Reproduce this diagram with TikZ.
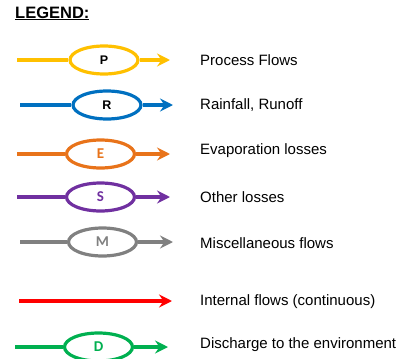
\documentclass[tikz,border=0pt]{standalone}
\usepackage{fontspec}
\setmainfont{Liberation Sans}
\newfontfamily\letterfont{Carlito}
\usepackage{xcolor}
\usepackage{tikz}
\usetikzlibrary{arrows.meta,shapes.geometric}
\definecolor{flowyellow}{HTML}{FFC000}
\definecolor{flowblue}{HTML}{0070C0}
\definecolor{floworange}{HTML}{E8731A}
\definecolor{flowpurple}{HTML}{7030A0}
\definecolor{flowgray}{HTML}{808080}
\definecolor{flowred}{HTML}{FF0000}
\definecolor{flowgreen}{HTML}{00B050}

\tikzset{
  flowline/.style={line width=3.2pt, -{Stealth[length=13pt,width=13pt,inset=4.5pt]}},
  plainline/.style={line width=3.2pt},
  flowbox/.style={ellipse, line width=3.2pt, minimum width=68pt, minimum height=28pt, inner sep=0pt, fill=white},
  legtext/.style={anchor=west, inner sep=0pt, font=\fontsize{15}{18}\selectfont}
}

\begin{document}
\begin{tikzpicture}[x=1pt, y=-1pt]
\useasboundingbox (0,0) rectangle (402,359);

\node[anchor=base west, inner sep=0pt, font=\fontsize{16.5}{19}\selectfont\bfseries] (title) at (15,18) {\underline{LEGEND:}};

% process flows
\coordinate (p-in) at (17,60);
\coordinate (p-out) at (170,60);
\node[flowbox, draw=flowyellow, font=\fontsize{12.5}{14}\selectfont\bfseries] (p) at (104,60) {P};
\draw[plainline, flowyellow] (p-in) -- (p);
\draw[flowline, flowyellow] (p) -- (p-out);
\node[legtext] (p-text) at (200,60) {Process Flows};

% rainfall, runoff
\coordinate (r-in) at (20,105);
\coordinate (r-out) at (173,105);
\node[flowbox, draw=flowblue, font=\fontsize{12.5}{14}\selectfont\bfseries] (r) at (107,105) {R};
\draw[plainline, flowblue] (r-in) -- (r);
\draw[flowline, flowblue] (r) -- (r-out);
\node[legtext] (r-text) at (200,105) {Rainfall, Runoff};

% evaporation
\coordinate (e-in) at (17,154);
\coordinate (e-out) at (170,154);
\node[flowbox, draw=floworange, text=floworange, font=\fontsize{15}{17}\letterfont\bfseries] (e) at (100.5,154) {E};
\draw[plainline, floworange] (e-in) -- (e);
\draw[flowline, floworange] (e) -- (e-out);
\node[legtext] (e-text) at (200,151) {Evaporation losses};

% other losses
\coordinate (s-in) at (17,197);
\coordinate (s-out) at (170,197);
\node[flowbox, draw=flowpurple, text=flowpurple, font=\fontsize{15}{17}\letterfont\bfseries] (s) at (100.5,197) {S};
\draw[plainline, flowpurple] (s-in) -- (s);
\draw[flowline, flowpurple] (s) -- (s-out);
\node[legtext] (s-text) at (200,197) {Other losses};

% miscellaneous
\coordinate (m-in) at (20,242);
\coordinate (m-out) at (173,242);
\node[flowbox, draw=flowgray, text=flowgray, font=\fontsize{15}{17}\letterfont\bfseries] (m) at (102.5,242) {M};
\draw[plainline, flowgray] (m-in) -- (m);
\draw[flowline, flowgray] (m) -- (m-out);
\node[legtext] (m-text) at (200,243) {Miscellaneous flows};

% internal flows
\coordinate (i-in) at (19,301);
\coordinate (i-out) at (172,301);
\draw[flowline, flowred] (i-in) -- (i-out);
\node[legtext] (i-text) at (200,302) {Internal flows (continuous)};

% discharge
\coordinate (d-in) at (15,347);
\coordinate (d-out) at (168,347);
\node[flowbox, draw=flowgreen, text=flowgreen, font=\fontsize{15}{17}\letterfont\bfseries] (d) at (98.5,347) {D};
\draw[plainline, flowgreen] (d-in) -- (d);
\draw[flowline, flowgreen] (d) -- (d-out);
\node[legtext] (d-text) at (200,345) {Discharge to the environment};
\end{tikzpicture}
\end{document}
